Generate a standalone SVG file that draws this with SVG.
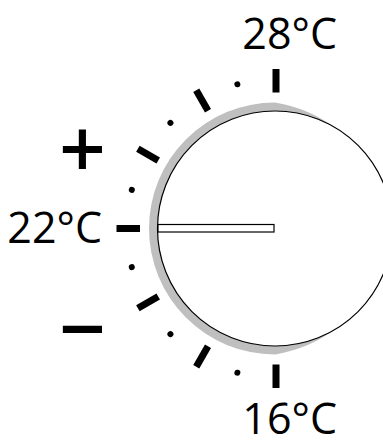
<svg xmlns="http://www.w3.org/2000/svg" width="383" height="441" viewBox="0 0 383 441">
<style>
.lbl{font-family:"Open Sans","Noto Sans",sans-serif;font-size:43px;fill:#000;text-anchor:end}
.sign{font-family:"Open Sans","Noto Sans",sans-serif;font-size:82px;fill:#000;text-anchor:middle;font-weight:600}
.tick{fill:#000}
</style>
<rect width="383" height="441" fill="#fff"/>
<g id="scale">
<g class="tick">
<rect x="272.5" y="69" width="7" height="23.5"/>
<rect x="272.5" y="69" width="7" height="23.5" transform="rotate(-30 276 228.5)"/>
<rect x="272.5" y="69" width="7" height="23.5" transform="rotate(-60 276 228.5)"/>
<rect x="272.5" y="69" width="7" height="23.5" transform="rotate(-90 276 228.5)"/>
<rect x="272.5" y="69" width="7" height="23.5" transform="rotate(-120 276 228.5)"/>
<rect x="272.5" y="69" width="7" height="23.5" transform="rotate(-150 276 228.5)"/>
<rect x="272.5" y="69" width="7" height="23.5" transform="rotate(-180 276 228.5)"/>
<circle cx="276" cy="79.2" r="3" transform="rotate(-15 276 228.5)"/>
<circle cx="276" cy="79.2" r="3" transform="rotate(-45 276 228.5)"/>
<circle cx="276" cy="79.2" r="3" transform="rotate(-75 276 228.5)"/>
<circle cx="276" cy="79.2" r="3" transform="rotate(-105 276 228.5)"/>
<circle cx="276" cy="79.2" r="3" transform="rotate(-135 276 228.5)"/>
<circle cx="276" cy="79.2" r="3" transform="rotate(-165 276 228.5)"/>
</g>
</g>
<g id="knob">
<path d="M 338.7 130.4 A 140 140 0 0 0 275 102.5 A 126 126 0 0 0 149 228.5 A 126 126 0 0 0 275 354.5 A 140 140 0 0 0 338.7 326.6 L 275 228.5 Z" fill="#bfbfbf"/>
<circle cx="275" cy="228.5" r="117.5" fill="#fff" stroke="#000" stroke-width="1.2"/>
<rect x="158" y="224.5" width="116" height="7.5" fill="#fff" stroke="#000" stroke-width="1.2"/>
</g>
<g id="labels">
<text class="lbl" x="337" y="49">28°C</text>
<text class="lbl" x="102" y="242.5">22°C</text>
<text class="lbl" x="337" y="434">16°C</text>
<text class="sign" x="82.5" y="178">+</text>
<text class="sign" x="82.5" y="358">−</text>
</g>
</svg>
